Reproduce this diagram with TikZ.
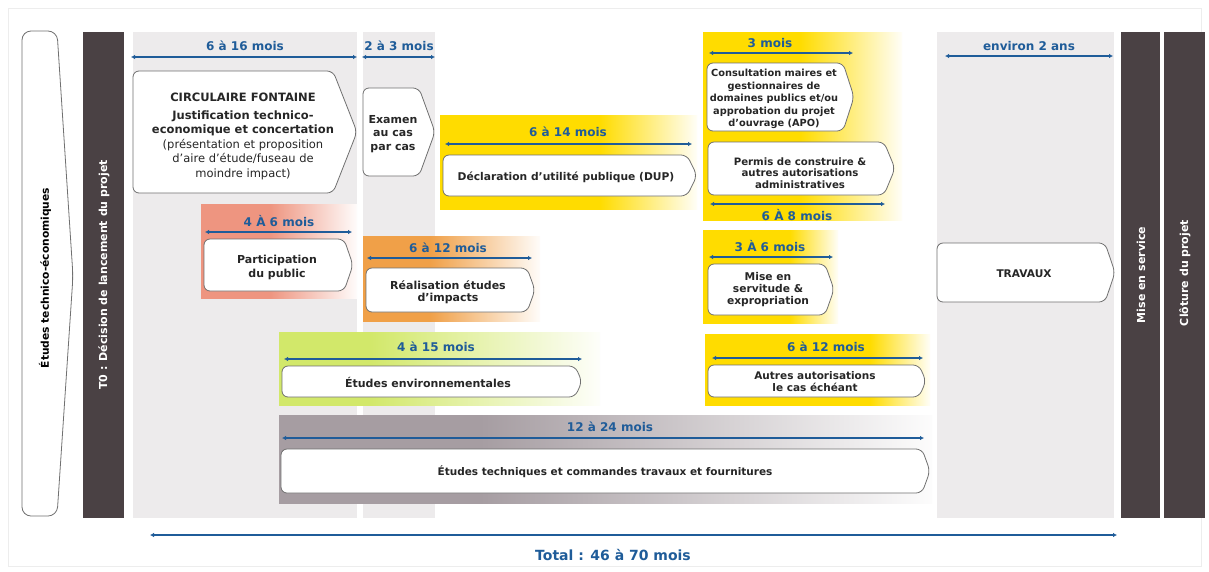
\documentclass[tikz,border=0pt]{standalone}
\usepackage{fontspec}
\setmainfont{DejaVu Sans}
\usetikzlibrary{arrows.meta}

\definecolor{colgray}{HTML}{EDEBEC}
\definecolor{barbrown}{HTML}{4A4144}
\definecolor{durblue}{HTML}{1F5C99}
\definecolor{bandyellow}{HTML}{FFDC00}
\definecolor{bandsalmon}{HTML}{EE9580}
\definecolor{bandorange}{HTML}{F0A048}
\definecolor{bandgreen}{HTML}{D2E86A}
\definecolor{bandmauve}{HTML}{A69DA2}
\definecolor{boxline}{HTML}{707070}

% box with a pointed right end: x1, y1, x2, y2, depth of the tip
\newcommand{\chevron}[5]{%
  \draw[chev] (#1,#2) -- ({#3-#5},#2) -- (#3,{(#2+#4)/2}) -- ({#3-#5},#4) -- (#1,#4) -- cycle;}
% coloured band fading to white: name, x1, y1, start of fade, x2, y2, colour
\newcommand{\band}[7]{%
  \pgfmathsetmacro\fadeat{25+50*(#4-#2)/(#5-#2)}%
  \colorlet{#1end}{#7!3}%
  \pgfdeclarehorizontalshading{#1}{100bp}{color(0bp)=(#7); color(\fadeat bp)=(#7);
    color(75bp)=(#1end); color(100bp)=(#1end)}%
  \shade[shading=#1] (#2,#3) rectangle (#5,#6);}

\begin{document}
\begin{tikzpicture}[x=1pt,y=-1pt,
  chev/.style={draw=boxline, fill=white, line width=0.8pt, rounded corners=6pt},
  dur/.style={text=durblue, font=\fontsize{12}{14}\selectfont\bfseries},
  span/.style={durblue, line width=1.3pt, {Latex[length=4pt,width=4.5pt]}-{Latex[length=4pt,width=4.5pt]}},
  txt/.style={align=center, text=black!85, font=\fontsize{11}{13.5}\selectfont\bfseries},
  bartxt/.style={rotate=90, text=white, font=\fontsize{11}{13}\selectfont\bfseries}]
  \useasboundingbox (0,0) rectangle (1209,571);
  \fill[white] (0,0) rectangle (1209,571);
  \draw[black!7] (8,8) rectangle (1201,566);
  %% columns and bars
  \foreach \xa/\xb in {133/357, 363/435, 937/1114}
    \fill[colgray] (\xa,32) rectangle (\xb,518);
  \foreach \xa/\xb in {83/124, 1121/1160, 1164/1205}
    \fill[barbrown] (\xa,32) rectangle (\xb,518);
  \draw[chev, rounded corners=9pt] (22,31) -- (57,31) -- (73,276) -- (57,516) -- (22,516) -- cycle;
  %% bands
  \band{fadedup}{440}{115}{600}{697}{209}{bandyellow}
  \band{fadeapo}{703}{32}{800}{902}{220}{bandyellow}
  \band{fadepart}{201}{204}{270}{357}{298}{bandsalmon}
  \band{fadereal}{363}{236}{430}{540}{321}{bandorange}
  \band{fadeserv}{703}{230}{790}{838}{323}{bandyellow}
  \band{fadeenv}{279}{332}{370}{600}{405}{bandgreen}
  \band{fadeaut}{705}{334}{870}{930}{405}{bandyellow}
  \band{fadetech}{279}{415}{480}{932}{503}{bandmauve}
  %% boxes
  \chevron{133}{71}{357}{193}{24}
  \chevron{363}{88}{435}{176}{16}
  \chevron{443}{155}{697}{196}{10}
  \chevron{707}{63}{854}{131}{11}
  \chevron{708}{142}{895}{195}{11}
  \chevron{204}{239}{353}{291}{9}
  \chevron{366}{268}{535}{312}{8}
  \chevron{708}{264}{834}{315}{9}
  \chevron{282}{366}{582}{397}{7}
  \chevron{708}{365}{926}{397}{7}
  \chevron{281}{449}{930}{493}{8}
  \chevron{937}{243}{1115}{302}{10}
  %% durations
  \foreach \xa/\xb/\yy in {131/357/57, 362/435/57, 945/1113/56, 445/692/144, 709/853/53,
      710/885/204, 205/352/232, 367/532/258, 709/833/257, 284/582/359, 712/923/358,
      282/924/438, 150/1117/535}
    \draw[span] (\xa,\yy) -- (\xb,\yy);
  \node[dur] (dcirc) at (245,46) {6 à 16 mois};
  \node[dur] (dexam) at (399,46) {2 à 3 mois};
  \node[dur] (dtrav) at (1029,46) {environ 2 ans};
  \node[dur] (ddup) at (568,132) {6 à 14 mois};
  \node[dur] (dcons) at (770,43) {3 mois};
  \node[dur] (dperm) at (797,215) {6 À 8 mois};
  \node[dur] (dpart) at (279,221) {4 À 6 mois};
  \node[dur] (dreal) at (448,248) {6 à 12 mois};
  \node[dur] (dserv) at (770,246) {3 À 6 mois};
  \node[dur] (denv) at (436,347) {4 à 15 mois};
  \node[dur] (daut) at (826,347) {6 à 12 mois};
  \node[dur] (dtech) at (610,427) {12 à 24 mois};
  \node[dur, font=\fontsize{14}{16}\selectfont\bfseries] (total) at (613,555) {Total : 46 à 70 mois};
  %% texts
  \node[txt, text=black, font=\fontsize{10.7}{13}\selectfont\bfseries, rotate=90] (etudes) at (45,278) {Études technico-économiques};
  \node[bartxt] (t0) at (104,275) {T0 : Décision de lancement du projet};
  \node[bartxt] (mise) at (1141,275) {Mise en service};
  \node[bartxt] (cloture) at (1185,273) {Clôture du projet};
  \node[txt, font=\fontsize{11.5}{14.5}\selectfont\bfseries] (circ) at (243,136)
    {CIRCULAIRE FONTAINE\\[3.5pt]Justification technico-\\economique et concertation\\
     \mdseries(présentation et proposition\\\mdseries d'aire d’étude/fuseau de\\\mdseries moindre impact)};
  \node[txt] (examen) at (393,134) {Examen\\au cas\\par cas};
  \node[txt, font=\fontsize{10.7}{13}\selectfont\bfseries] (dup) at (566,177) {Déclaration d’utilité publique (DUP)};
  \node[txt, font=\fontsize{9.8}{12.5}\selectfont\bfseries] (consult) at (774,99)
    {Consultation maires et\\gestionnaires de\\domaines publics et/ou\\approbation du projet\\d'ouvrage (APO)};
  \node[txt, font=\fontsize{10.2}{11.8}\selectfont\bfseries] (permis) at (800,173)
    {Permis de construire \&\\autres autorisations\\administratives};
  \node[txt, font=\fontsize{11}{14}\selectfont\bfseries] (partic) at (277,267) {Participation\\du public};
  \node[txt, font=\fontsize{11}{12.5}\selectfont\bfseries] (realis) at (448,292) {Réalisation études\\d’impacts};
  \node[txt, font=\fontsize{10.7}{12}\selectfont\bfseries] (servit) at (768,290) {Mise en\\servitude \&\\expropriation};
  \node[txt] (envir) at (428,382) {Études environnementales};
  \node[txt, font=\fontsize{10.5}{12}\selectfont\bfseries] (autres) at (815,382) {Autres autorisations\\le cas échéant};
  \node[txt, font=\fontsize{10.5}{12}\selectfont\bfseries] (techn) at (605,472) {Études techniques et commandes travaux et fournitures};
  \node[txt, font=\fontsize{10.6}{12}\selectfont\bfseries] (travaux) at (1024,274) {TRAVAUX};
\end{tikzpicture}
\end{document}
